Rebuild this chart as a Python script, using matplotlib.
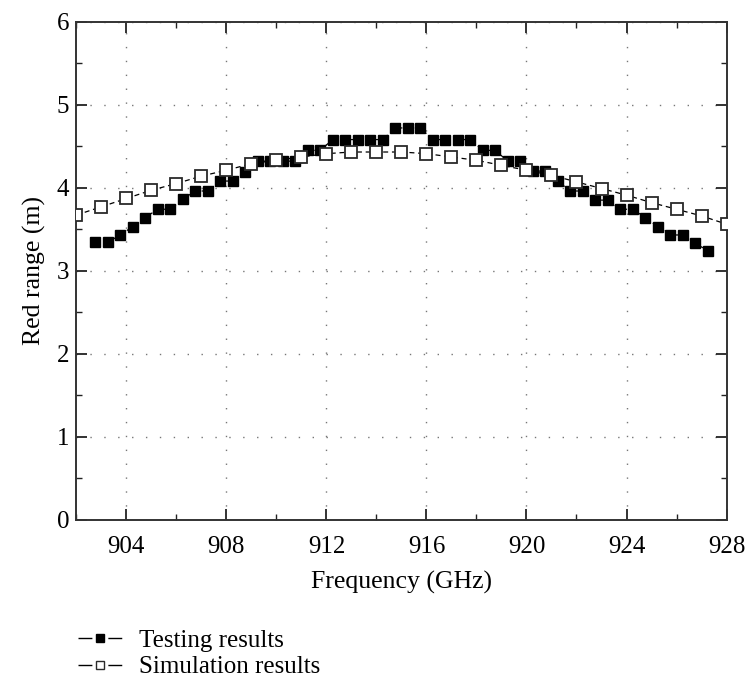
import matplotlib
matplotlib.use("Agg")
import matplotlib.pyplot as plt
from matplotlib.ticker import MultipleLocator
from matplotlib.lines import Line2D

plt.rcParams['font.family'] = ['Liberation Serif', 'DejaVu Serif']

test_freq = [902.75 + 0.5 * i for i in range(50)]
test_range = [3.34, 3.34, 3.43, 3.53, 3.64, 3.74, 3.74, 3.86, 3.96, 3.96,
              4.08, 4.08, 4.19, 4.32, 4.32, 4.32, 4.32, 4.45, 4.45, 4.58,
              4.58, 4.58, 4.58, 4.58, 4.72, 4.72, 4.72, 4.58, 4.58, 4.58,
              4.58, 4.45, 4.45, 4.32, 4.32, 4.20, 4.20, 4.08, 3.96, 3.96,
              3.85, 3.85, 3.74, 3.74, 3.64, 3.53, 3.43, 3.43, 3.33, 3.24]

sim_freq = list(range(902, 929))
sim_range = [3.67, 3.77, 3.87, 3.97, 4.05, 4.14, 4.21, 4.29, 4.33, 4.37,
             4.41, 4.43, 4.43, 4.43, 4.41, 4.37, 4.33, 4.27, 4.21, 4.15,
             4.07, 3.99, 3.91, 3.82, 3.74, 3.66, 3.56]

x_ticks = [904, 908, 912, 916, 920, 924, 928]
y_ticks = [0, 1, 2, 3, 4, 5, 6]
labels = ['Testing results', 'Simulation results']

fig = plt.figure(figsize=(7.49, 6.8), dpi=100)
ax = fig.add_axes([0.102, 0.236, 0.868, 0.732])

ax.plot(test_freq, test_range, linestyle=(0, (4, 3)), color='black', linewidth=0.9,
        marker='s', markersize=7.4, markerfacecolor='black', markeredgecolor='black',
        zorder=3)
ax.plot(sim_freq, sim_range, linestyle=(0, (4, 3)), color='black', linewidth=0.9,
        marker='s', markersize=8, markerfacecolor='white', markeredgecolor='#2a2a2a',
        markeredgewidth=1.3, zorder=4)

ax.set_xlim(902, 928)
ax.set_ylim(0, 6)
ax.set_xticks(x_ticks)
ax.set_yticks(y_ticks)
ax.xaxis.set_minor_locator(MultipleLocator(2))
ax.yaxis.set_minor_locator(MultipleLocator(0.5))
ax.tick_params(which='both', direction='in', top=True, right=True, labelsize=18, color='#222222')
ax.tick_params(which='major', length=8, width=1.3)
ax.tick_params(which='minor', length=4, width=1.0)
ax.tick_params(axis='x', pad=12)
ax.tick_params(axis='y', pad=5)
for s in ax.spines.values():
    s.set_linewidth(1.4)
    s.set_color('#333333')

ax.grid(True, which='major', linestyle=(0, (1, 9)), color='#777777', linewidth=1.0)

ax.set_xlabel('Frequency (GHz)', fontsize=18.5, labelpad=9)
ax.set_ylabel('Red range (m)', fontsize=18.5, labelpad=8)

h1 = Line2D([], [], color='black', linewidth=1.0, linestyle=(0, (10, 11.5)),
            marker='s', markersize=5.5, markerfacecolor='black', markeredgecolor='black')
h2 = Line2D([], [], color='black', linewidth=1.0, linestyle=(0, (10, 11.5)),
            marker='s', markersize=5.5, markerfacecolor='white', markeredgecolor='#2a2a2a',
            markeredgewidth=1.0)
fig.legend(handles=[h1, h2], labels=labels, loc='upper left',
           bbox_to_anchor=(0.104, 0.074), frameon=False, fontsize=18,
           handlelength=1.76, numpoints=1, labelspacing=0.15, handletextpad=0.7,
           borderpad=0, borderaxespad=0)

fig.savefig('out.png', dpi=100)
